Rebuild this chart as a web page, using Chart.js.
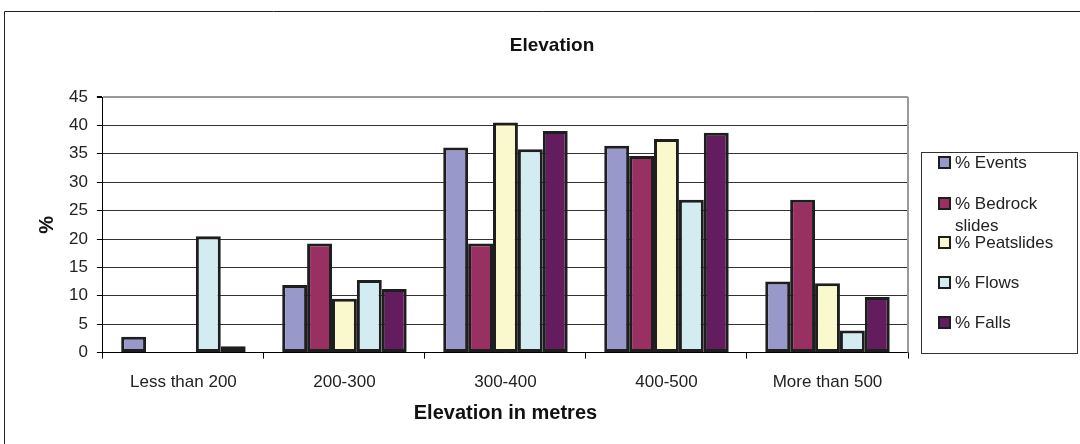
<!DOCTYPE html>
<html>
<head>
<meta charset="utf-8">
<title>Elevation</title>
<script src="https://cdn.jsdelivr.net/npm/chart.js@4"></script>
<style>
  html, body { margin: 0; padding: 0; background: #fff; }
  #wrap { width: 1080px; height: 444px; }
</style>
</head>
<body>
<div id="wrap"><canvas id="elevationChart" width="1080" height="444"></canvas></div>
<script>
const categories = ["Less than 200", "200-300", "300-400", "400-500", "More than 500"];
const eventsPct = [2.8, 11.9, 36.1, 36.4, 12.5];
const bedrockPct = [0, 19.2, 19.2, 34.6, 26.9];
const peatPct = [0, 9.5, 40.5, 37.6, 12.2];
const flowsPct = [20.5, 12.8, 35.8, 26.9, 3.9];
const fallsPct = [1.1, 11.2, 39.0, 38.7, 9.8];

const seriesNames = [["% Events"], ["% Bedrock", "slides"], ["% Peatslides"], ["% Flows"], ["% Falls"]];
const seriesColors = ["#9898ca", "#993062", "#faf8cd", "#d2ecf2", "#631d5f"];
const chartTitle = "Elevation";

const FONT = "'Liberation Sans', Arial, sans-serif";

function makeDataset(idx, values) {
    return {
        label: seriesNames[idx].join(" "),
        data: values,
        backgroundColor: seriesColors[idx],
        borderColor: "#1e1e1e",
        borderWidth: ctx => (ctx.raw === 0 ? 0 : 3),
        borderSkipped: false
    };
}

// title, frame, plot border and the boxed legend on the right
const decorations = {
    id: "decorations",
    afterDraw(chart) {
        const c = chart.ctx;
        const area = chart.chartArea;
        c.save();

        c.fillStyle = "#111";
        c.font = "bold 19px " + FONT;
        c.textAlign = "center";
        c.textBaseline = "middle";
        c.fillText(chartTitle, 552, 46);
        c.textAlign = "left";

        c.strokeStyle = "#222";
        c.lineWidth = 1;
        c.beginPath();
        c.moveTo(4.5, 444);
        c.lineTo(4.5, 11.5);
        c.lineTo(1080, 11.5);
        c.stroke();

        c.strokeStyle = "#9a9a9a";
        c.lineWidth = 2;
        c.beginPath();
        c.moveTo(area.right, area.top);
        c.lineTo(area.right, area.bottom);
        c.stroke();

        c.strokeStyle = "#333";
        c.lineWidth = 1;
        c.strokeRect(921.5, 152.5, 156, 201);

        c.font = "17px " + FONT;
        const rows = [163, 204, 243, 283, 323];
        chart.data.datasets.forEach((ds, i) => {
            const y = rows[i];
            c.fillStyle = ds.backgroundColor;
            c.fillRect(939, y - 6, 11, 11);
            c.strokeStyle = "#1e1e1e";
            c.lineWidth = 2;
            c.strokeRect(939, y - 6, 11, 11);
            c.fillStyle = "#222";
            seriesNames[i].forEach((line, j) => {
                c.fillText(line, 955, y + j * 22);
            });
        });
        c.restore();
    }
};

new Chart(document.getElementById("elevationChart"), {
    type: "bar",
    data: {
        labels: categories,
        datasets: [
            makeDataset(0, eventsPct),
            makeDataset(1, bedrockPct),
            makeDataset(2, peatPct),
            makeDataset(3, flowsPct),
            makeDataset(4, fallsPct)
        ]
    },
    options: {
        responsive: false,
        animation: false,
        layout: { padding: { left: 29, right: 172, top: 97, bottom: 25 } },
        datasets: {
            bar: { categoryPercentage: 0.773, barPercentage: 1 }
        },
        plugins: {
            legend: { display: false },
            tooltip: { enabled: false },
            title: { display: false }
        },
        scales: {
            x: {
                grid: {
                    offset: true,
                    drawOnChartArea: false,
                    drawTicks: true,
                    tickLength: 6,
                    color: "#000"
                },
                border: { color: "#000", width: 1 },
                ticks: {
                    color: "#222",
                    padding: 14,
                    font: { family: FONT, size: 17 }
                },
                title: {
                    display: true,
                    text: "Elevation in metres",
                    color: "#111",
                    font: { family: FONT, size: 20, weight: "bold", lineHeight: 0.6 },
                    padding: { top: 0, bottom: 0 }
                }
            },
            y: {
                min: 0,
                max: 45,
                grid: {
                    color: ctx => (ctx.tick && ctx.tick.value === 45 ? "#9a9a9a" : "#333"),
                    lineWidth: ctx => (ctx.tick && ctx.tick.value === 45 ? 2 : 1),
                    tickColor: "#000",
                    tickLength: 6
                },
                border: { color: "#000", width: 1 },
                ticks: {
                    stepSize: 5,
                    color: "#222",
                    padding: 9,
                    font: { family: FONT, size: 17 }
                },
                title: {
                    display: true,
                    text: "%",
                    color: "#111",
                    font: { family: FONT, size: 20, weight: "bold" },
                    padding: { top: 6, bottom: 1 }
                }
            }
        }
    },
    plugins: [decorations]
});
</script>
</body>
</html>
